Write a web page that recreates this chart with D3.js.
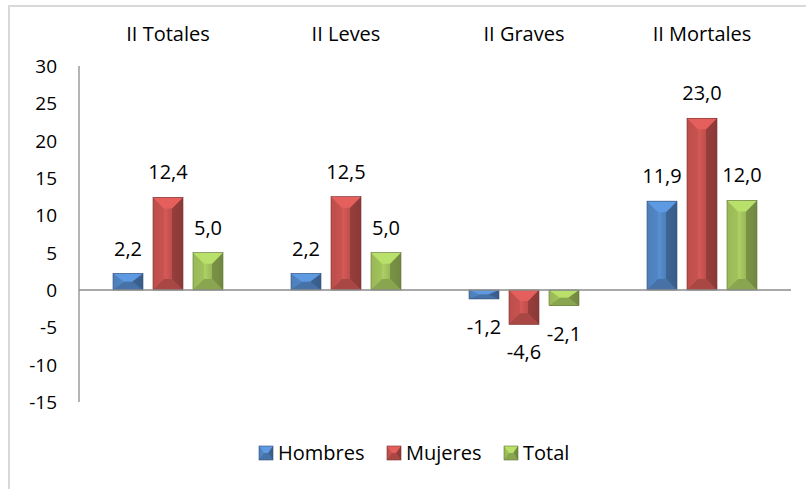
<!DOCTYPE html>
<html lang="es">
<head>
<meta charset="utf-8">
<title>Variación</title>
<style>
  body { margin: 0; background: #fff; }
  svg text { font-family: "Open Sans", Lato, sans-serif; fill: #000; }
</style>
</head>
<body>
<svg></svg>
<script src="https://d3js.org/d3.v7.min.js"></script>
<script>
var categories = ["II Totales", "II Leves", "II Graves", "II Mortales"];
var seriesNames = ["Hombres", "Mujeres", "Total"];
var hombres = [2.2, 2.2, -1.2, 11.9];
var mujeres = [12.4, 12.5, -4.6, 23.0];
var total = [5.0, 5.0, -2.1, 12.0];
var colors = ["#4F81BD", "#C0504D", "#9BBB59"];
var yTicks = [30, 25, 20, 15, 10, 5, 0, -5, -10, -15];

var width = 806, height = 489;
var svg = d3.select("svg").attr("width", width).attr("height", height);

// outer border of the chart area
svg.append("path")
   .attr("d", "M9,489 V6 H806")
   .attr("fill", "none")
   .attr("stroke", "#d9d9d9")
   .attr("stroke-width", 2);

var x0 = d3.scaleBand().domain(categories).range([79, 791]);
var x1 = d3.scaleBand().domain(seriesNames).range([0, 110]).paddingInner(0.25);
var y = d3.scaleLinear().domain([-15, 30]).range([402, 66]);

// y axis labels
svg.selectAll(".ytick")
   .data(yTicks).enter()
   .append("text")
   .attr("x", 57)
   .attr("y", function(d){ return y(d); })
   .attr("dy", "0.36em")
   .attr("text-anchor", "end")
   .style("font-size", "19px")
   .text(function(d){ return d; });

svg.append("line")
   .attr("x1", 79).attr("x2", 79)
   .attr("y1", y(30)).attr("y2", y(-15))
   .attr("stroke", "#8c8c8c").attr("stroke-width", 1.3);

// category labels at top
svg.selectAll(".cat")
   .data(categories).enter()
   .append("text")
   .attr("x", function(d){ return x0(d) + x0.bandwidth()/2; })
   .attr("y", 41)
   .attr("text-anchor", "middle")
   .style("font-size", "20px")
   .text(function(d){ return d; });

var defs = svg.append("defs");
colors.forEach(function(c, i){
  var g = defs.append("linearGradient").attr("id", "grad" + i)
             .attr("x1", 0).attr("x2", 1).attr("y1", 0).attr("y2", 0);
  g.append("stop").attr("offset", "0%").attr("stop-color", d3.color(c).darker(0.1));
  g.append("stop").attr("offset", "40%").attr("stop-color", d3.color(c).brighter(0.3));
  g.append("stop").attr("offset", "100%").attr("stop-color", d3.color(c).darker(0.7));
});

function bevelBar(sel, x, yTop, w, h, i) {
  var c = colors[i];
  var bh = Math.min(11, h / 2), bw = Math.min(11, w / 2 - 2);
  var xr = x + w, yb = yTop + h;
  var g = sel.append("g");
  var pts = function(a){ return a.map(function(p){ return p.join(","); }).join(" "); };
  g.append("rect").attr("x", x).attr("y", yTop).attr("width", w).attr("height", h)
   .attr("fill", "url(#grad" + i + ")");
  g.append("polygon").attr("points", pts([[x,yTop],[x+bw,yTop+bh],[x+bw,yb-bh],[x,yb]]))
   .attr("fill", d3.color(c)).attr("opacity", 0.6);
  g.append("polygon").attr("points", pts([[xr,yTop],[xr-bw,yTop+bh],[xr-bw,yb-bh],[xr,yb]]))
   .attr("fill", d3.color(c).darker(1.0)).attr("opacity", 0.7);
  g.append("polygon").attr("points", pts([[x,yTop],[xr,yTop],[xr-bw,yTop+bh],[x+bw,yTop+bh]]))
   .attr("fill", d3.color(c).brighter(0.5));
  g.append("polygon").attr("points", pts([[x,yb],[xr,yb],[xr-bw,yb-bh],[x+bw,yb-bh]]))
   .attr("fill", d3.color(c).darker(0.35));
  g.append("rect").attr("x", x).attr("y", yTop).attr("width", w).attr("height", h)
   .attr("fill", "none").attr("stroke", d3.color(c).darker(1.3)).attr("stroke-width", 0.6);
}

var series = [hombres, mujeres, total];
var groupOffset = (x0.bandwidth() - 110) / 2;

categories.forEach(function(cat, ci){
  series.forEach(function(vals, si){
    var v = vals[ci];
    var bx = x0(cat) + groupOffset + x1(seriesNames[si]);
    var bw = x1.bandwidth();
    var top = y(Math.max(0, v)), bot = y(Math.min(0, v));
    bevelBar(svg, bx, top, bw, bot - top, si);
    svg.append("text")
       .attr("x", bx + bw / 2)
       .attr("y", v >= 0 ? top - 18 : bot + 35)
       .attr("text-anchor", "middle")
       .style("font-size", "20px")
       .text(d3.format(".1f")(v).replace(".", ",").replace("−", "-"));
  });
});

// zero line
svg.append("line")
   .attr("x1", 79).attr("x2", 791)
   .attr("y1", y(0)).attr("y2", y(0))
   .attr("stroke", "#8c8c8c").attr("stroke-width", 1.3);

// legend
var legendX = [259, 387, 504];
seriesNames.forEach(function(name, i){
  bevelBar(svg, legendX[i], 446, 14, 14, i);
  svg.append("text")
     .attr("x", legendX[i] + 19)
     .attr("y", 453)
     .attr("dy", "0.36em")
     .style("font-size", "20px")
     .text(name);
});
</script>
</body>
</html>
